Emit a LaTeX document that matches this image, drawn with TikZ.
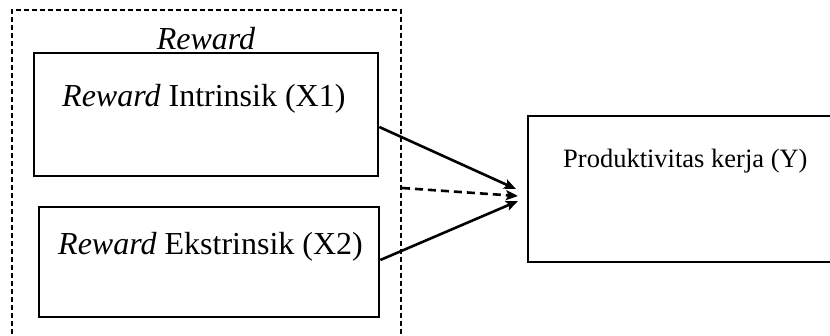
\documentclass[tikz,border=0pt]{standalone}
\usepackage{fontspec}
\setmainfont{Liberation Serif}
\usetikzlibrary{arrows.meta,calc}
\begin{document}
\begin{tikzpicture}[x=1pt,y=-1pt,
  boxst/.style={draw=black,line width=2.6pt,inner sep=0pt,fill=none},
  grpst/.style={draw=black,line width=2pt,dash pattern=on 5pt off 3pt,inner sep=0pt},
  bigtxt/.style={inner sep=0pt,font=\fontsize{32}{37}\selectfont},
  smalltxt/.style={inner sep=0pt,font=\fontsize{26.5}{31}\selectfont},
  arr/.style={line width=2.6pt,-{Stealth[length=12pt,width=10pt,inset=2.5pt]}},
  darr/.style={arr,dash pattern=on 8pt off 5pt}]
\useasboundingbox (0,0) rectangle (830,336);
\clip (0,0) rectangle (830,336);
\fill[white] (0,0) rectangle (830,336);
% group box
\node[grpst,minimum width=389pt,minimum height=335pt] (grp) at (206.5,177.5) {};
% boxes
\node[boxst,minimum width=344pt,minimum height=123pt] (b1) at (206,114.5) {};
\node[boxst,minimum width=340pt,minimum height=110pt] (b2) at (209,262) {};
\node[boxst,minimum width=312pt,minimum height=146pt] (by) at (684,189) {};
% texts
\node[bigtxt,anchor=base] (title) at (206,50) {\textit{Reward}};
\node[bigtxt,anchor=base west] (t1) at (62,107) {\textit{Reward} Intrinsik (X1)};
\node[bigtxt,anchor=base west] (t2) at (58,255) {\textit{Reward} Ekstrinsik (X2)};
\node[smalltxt,anchor=base west] (ty) at (563,168) {Produktivitas kerja (Y)};
% arrow ends
\coordinate (e1) at (516,189);
\coordinate (ed) at (518,196);
\coordinate (e2) at (518,201);
\draw[arr] ([yshift=-12.5pt]b1.east) -- (e1);
\draw[darr] ([yshift=-10.5pt]grp.east) -- (ed);
\draw[arr] ([yshift=2pt]b2.east) -- (e2);
\end{tikzpicture}
\end{document}
